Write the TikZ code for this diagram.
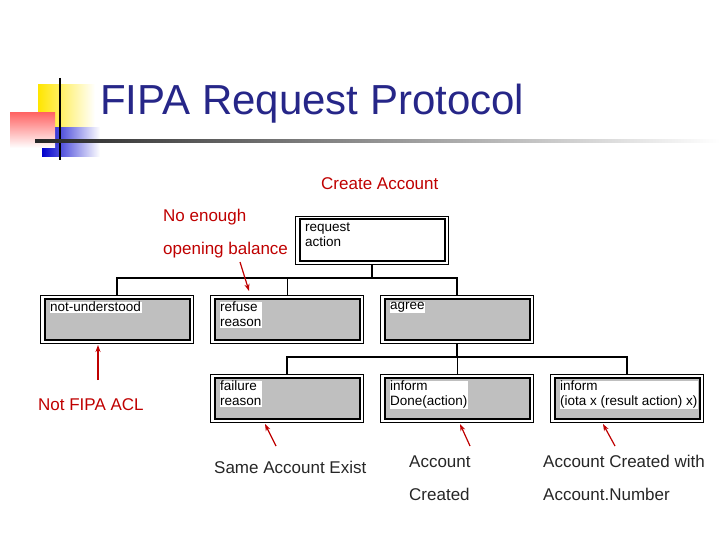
\documentclass[tikz,border=0pt]{standalone}
\usepackage{fontspec}
\setmainfont{Liberation Sans}
\usetikzlibrary{arrows.meta}
\begin{document}
\begin{tikzpicture}[x=1pt,y=-1pt,
  box/.style={draw=black,line width=0.6pt,fill=white,minimum width=153pt,minimum height=48pt,inner sep=0pt},
  inner/.style={draw=black,line width=2pt,minimum width=145pt,minimum height=41pt,inner sep=0pt},
  lbl/.style={font=\fontsize{13.5}{15}\selectfont,fill=white,inner sep=0.5pt,align=left,anchor=north west},
  note/.style={text=red!75!black,font=\fontsize{17}{19}\selectfont,anchor=west,inner sep=0pt},
  rarr/.style={draw=red!75!black,line width=1.2pt,-{Stealth[length=7pt,width=5pt]}},
  tree/.style={line width=1.2pt}]
\useasboundingbox (0,0) rectangle (720,540);
% logo
\shade[left color=yellow!80!orange,right color=white] (38,85) rectangle (95,128);
\shade[left color=blue!80!black,right color=white] (42,128) rectangle (100,157);
\shade[left color=red!90,right color=white,top color=red!60,bottom color=white] (10,113) rectangle (55,148);
\draw[line width=1.5pt] (60,78) -- (60,160);
\shade[left color=black!85,right color=white] (35,140) rectangle (720,142.5);
\node[text=blue!45!black!85,font=\fontsize{42}{46}\selectfont,anchor=west,inner sep=0pt] (title) at (100,104) {FIPA Request Protocol};
% boxes
\foreach \n/\x/\y/\f in {req/372/240/white, nu/117/319/black!25, rf/287/319/black!25, ag/457/319/black!25, fl/287/398/black!25, id/457/398/black!25, ii/627/398/black!25}{
  \node[box] (\n) at (\x,\y) {};
  \node[inner,fill=\f] (\n-in) at (\x,\y) {};
}
\node[lbl] at ([xshift=6pt,yshift=-4pt]req-in.north west) {request\\action};
\node[lbl] at ([xshift=6pt,yshift=-4pt]nu-in.north west) {not-understood};
\node[lbl] at ([xshift=6pt,yshift=-4pt]rf-in.north west) {refuse\\reason};
\node[lbl] at ([xshift=6pt,yshift=-4pt]ag-in.north west) {agree};
\node[lbl] at ([xshift=6pt,yshift=-4pt]fl-in.north west) {failure\\reason};
\node[lbl] at ([xshift=6pt,yshift=-4pt]id-in.north west) {inform\\Done(action)};
\node[lbl] at ([xshift=6pt,yshift=-4pt]ii-in.north west) {inform\\(iota x (result action) x)};
% tree
\coordinate (h1) at (372,278);
\draw[tree] (req.south) -- (h1);
\draw[tree] (nu.north) |- (h1) -| (ag.north);
\draw[line width=0.6pt] (rf.north) -- (rf.north |- h1);
\coordinate (h2) at (457,357);
\draw[tree] (ag.south) -- (h2);
\draw[tree] (fl.north) |- (h2) -| (ii.north);
\draw[line width=0.6pt] (id.north) -- (id.north |- h2);
% notes
\node[note] (ca) at (321,184) {Create Account};
\node[note] (ne) at (163,217) {No enough};
\node[note] (ob) at (163,250) {opening balance};
\node[note] (nf) at (38,405) {Not FIPA ACL};
\node[note,text=black!85] (sa) at (214,467) {Same Account Exist};
\node[note,text=black!85] (ac) at (409,462) {Account};
\node[note,text=black!85] (cr) at (409,494) {Created};
\node[note,text=black!85] (aw) at (543,461) {Account Created with};
\node[note,text=black!85] (an) at (543,494) {Account.Number};
\coordinate (a1) at (240,262); \coordinate (a1e) at (249,291);
\draw[rarr] (a1) -- (a1e);
\coordinate (a2) at (98,380); \coordinate (a2e) at (98,345);
\draw[rarr] (a2) -- (a2e);
\coordinate (a3) at (276,446); \coordinate (a3e) at (265,424);
\draw[rarr] (a3) -- (a3e);
\coordinate (a4) at (470,446); \coordinate (a4e) at (460,424);
\draw[rarr] (a4) -- (a4e);
\coordinate (a5) at (615,446); \coordinate (a5e) at (603,424);
\draw[rarr] (a5) -- (a5e);
\end{tikzpicture}
\end{document}
